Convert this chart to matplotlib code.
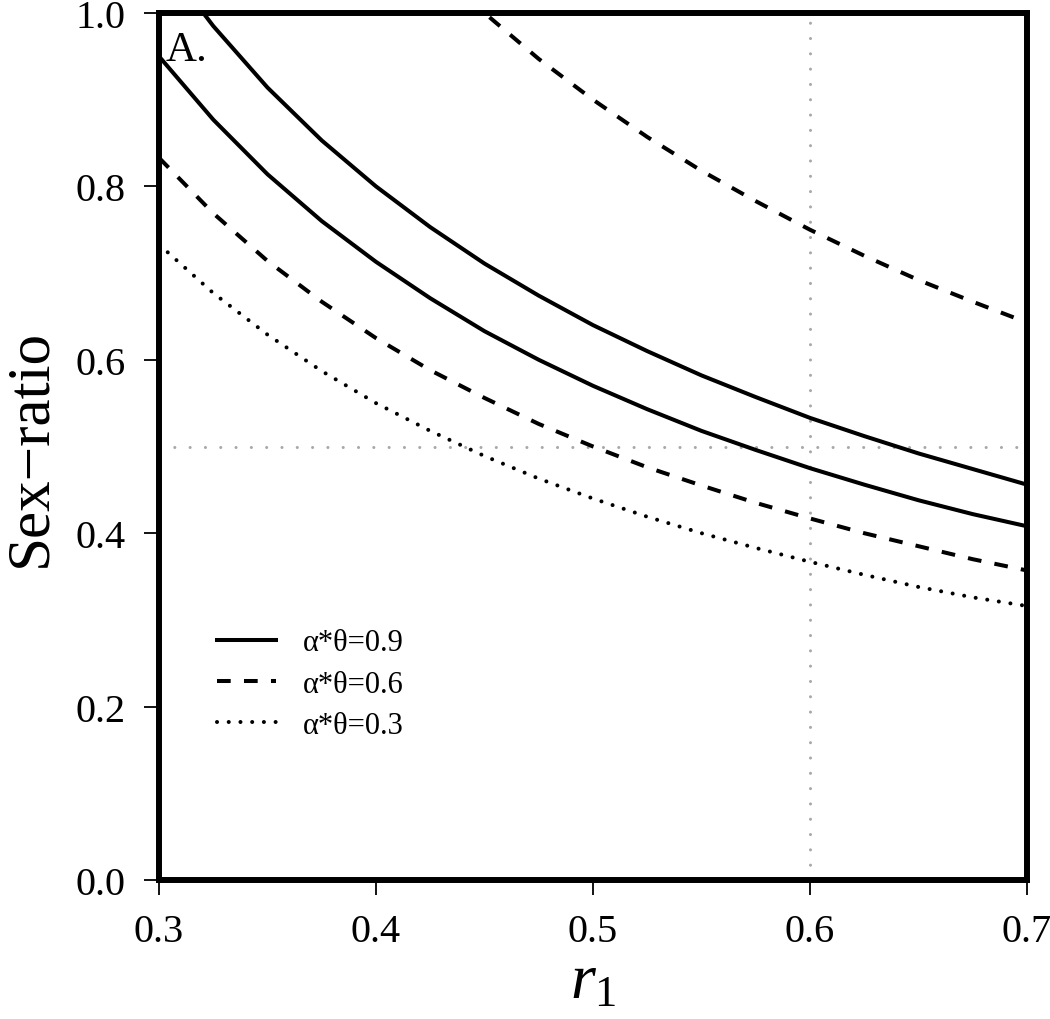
import numpy as np
import matplotlib.pyplot as plt

plt.rcParams['font.family'] = ['Liberation Serif', 'DejaVu Serif']
plt.rcParams['mathtext.fontset'] = 'custom'
plt.rcParams['mathtext.it'] = 'Liberation Serif:italic'
plt.rcParams['mathtext.rm'] = 'Liberation Serif'

# values at r1 = 0.300, 0.325, ..., 0.700
r1 = [0.300, 0.325, 0.350, 0.375, 0.400, 0.425, 0.450, 0.475, 0.500,
      0.525, 0.550, 0.575, 0.600, 0.625, 0.650, 0.675, 0.700]
solid_hi = [1.067, 0.985, 0.914, 0.853, 0.800, 0.753, 0.711, 0.674, 0.640,
            0.610, 0.582, 0.557, 0.533, 0.512, 0.492, 0.474, 0.456]
solid_lo = [0.950, 0.877, 0.814, 0.760, 0.713, 0.671, 0.633, 0.600, 0.570,
            0.543, 0.518, 0.496, 0.475, 0.456, 0.438, 0.422, 0.408]
dashed_hi = [1.500, 1.385, 1.286, 1.200, 1.125, 1.059, 1.000, 0.947, 0.900,
             0.857, 0.818, 0.783, 0.750, 0.720, 0.692, 0.667, 0.643]
dashed_lo = [0.833, 0.769, 0.714, 0.667, 0.625, 0.588, 0.556, 0.526, 0.500,
             0.476, 0.455, 0.435, 0.417, 0.400, 0.385, 0.370, 0.357]
dotted = [0.733, 0.677, 0.629, 0.587, 0.550, 0.518, 0.489, 0.463, 0.440,
          0.419, 0.400, 0.383, 0.367, 0.352, 0.338, 0.326, 0.316]

labels = ['α*θ=0.9', 'α*θ=0.6', 'α*θ=0.3']
x_ticks = [0.3, 0.4, 0.5, 0.6, 0.7]
y_ticks = [0.0, 0.2, 0.4, 0.6, 0.8, 1.0]

fig = plt.figure(figsize=(10.5, 10.2), dpi=100)
ax = fig.add_axes([159 / 1050, 1 - 881 / 1020, 868 / 1050, 867 / 1020])

# reference lines
grey = dict(color='#a8a8a8', lw=2.2, ls=(0, (0.01, 5.0)),
            dash_capstyle='round', zorder=1)
ax.axvline(0.6, **grey)
ax.axhline(0.5, **grey)

lw = 2.9
dash = (0, (3.4, 3.3))
dot = (0, (0.01, 2.9))
ax.plot(r1, solid_hi, color='black', lw=lw, label=labels[0])
ax.plot(r1, solid_lo, color='black', lw=lw)
ax.plot(r1, dashed_hi, color='black', lw=lw, ls=dash, label=labels[1])
ax.plot(r1, dashed_lo, color='black', lw=lw, ls=dash)
ax.plot(r1, dotted, color='black', lw=lw, ls=dot,
        dash_capstyle='round', label=labels[2])

ax.set_xlim(0.3, 0.7)
ax.set_ylim(0, 1)
ax.set_xticks(x_ticks)
ax.set_xticklabels([f'{v:.1f}' for v in x_ticks])
ax.set_yticks(y_ticks)
ax.set_yticklabels([f'{v:.1f}' for v in y_ticks])
ax.tick_params(direction='out', length=11, width=1.3, labelsize=29, pad=13)

for s in ax.spines.values():
    s.set_linewidth(4.3)

ax.set_ylabel('Sex\u2212ratio', fontsize=44, labelpad=12)
ax.set_xlabel('$r_1$', fontsize=46, labelpad=2)

ax.text(0.008, 0.98, 'A.', transform=ax.transAxes, fontsize=31,
        ha='left', va='top')

ax.legend(loc='lower left', bbox_to_anchor=(0.035, 0.13), frameon=False,
          fontsize=22, handlelength=1.95, handletextpad=0.85, labelspacing=0.4)

fig.savefig('out.png', dpi=100)
